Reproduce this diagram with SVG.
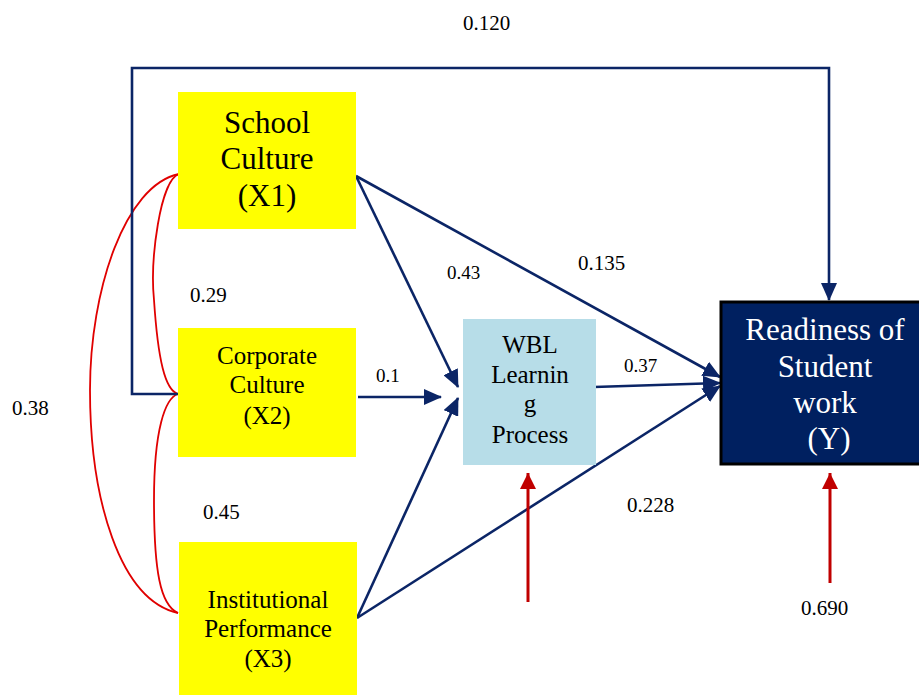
<svg xmlns="http://www.w3.org/2000/svg" width="919" height="695" viewBox="0 0 919 695">
<style>
text{font-family:"Liberation Serif","Times New Roman",serif;fill:#000}
.lbl{font-size:21px}
.sm{font-size:19px}
.nav{stroke:#0B2566;stroke-width:2.6;fill:none}
.red{stroke:#E00000;stroke-width:1.8;fill:none}
.ra{stroke:#C00000;stroke-width:3;fill:none}
</style>
<defs>
<marker id="ah" markerUnits="userSpaceOnUse" markerWidth="18" markerHeight="16" refX="17" refY="8" orient="auto">
<path d="M0,0 L18,8 L0,16 Z" fill="#0B2566"/>
</marker>
<marker id="rh" markerUnits="userSpaceOnUse" markerWidth="16" markerHeight="16" refX="16" refY="8" orient="auto">
<path d="M0,0 L16,8 L0,16 Z" fill="#C00000"/>
</marker>
</defs>
<rect width="919" height="695" fill="#fff"/>
<g id="connectors">
<path class="red" d="M179,174 C160,180 150,260 154,300 C158,360 165,390 178,394"/>
<path class="red" d="M178,394 C165,398 154,430 154,500 C154,570 160,605 178,613"/>
<path class="red" d="M179,174 C125,185 90,290 90,390 C90,500 120,600 178,613"/>
<polyline class="nav" points="178,394 132,394 132,68 829,68 829,300" marker-end="url(#ah)"/>
<line class="nav" x1="356" y1="176" x2="458" y2="387" marker-end="url(#ah)"/>
<line class="nav" x1="358" y1="397" x2="441" y2="397" marker-end="url(#ah)"/>
<line class="nav" x1="357" y1="618" x2="458" y2="398" marker-end="url(#ah)"/>
<line class="nav" x1="356" y1="176" x2="720" y2="377" marker-end="url(#ah)"/>
<line class="nav" x1="594" y1="387" x2="720" y2="383" marker-end="url(#ah)"/>
<line class="nav" x1="357" y1="618" x2="720" y2="386" marker-end="url(#ah)"/>
<line class="ra" x1="528" y1="602" x2="528" y2="473" marker-end="url(#rh)"/>
<line class="ra" x1="830" y1="583" x2="830" y2="473" marker-end="url(#rh)"/>
</g>
<g id="x1">
<rect x="178" y="92" width="178" height="137" fill="#FFFF00"/>
<text x="267" y="133" font-size="31" text-anchor="middle">School</text>
<text x="267" y="169" font-size="31" text-anchor="middle">Culture</text>
<text x="267" y="206" font-size="31" text-anchor="middle">(X1)</text>
</g>
<g id="x2">
<rect x="178" y="328" width="178" height="129" fill="#FFFF00"/>
<text x="267" y="364" font-size="25" text-anchor="middle">Corporate</text>
<text x="267" y="393" font-size="25" text-anchor="middle">Culture</text>
<text x="267" y="424" font-size="25" text-anchor="middle">(X2)</text>
</g>
<g id="x3">
<rect x="179" y="542" width="178" height="153" fill="#FFFF00"/>
<text x="268" y="608" font-size="25" text-anchor="middle">Institutional</text>
<text x="268" y="637" font-size="25" text-anchor="middle">Performance</text>
<text x="268" y="667" font-size="25" text-anchor="middle">(X3)</text>
</g>
<g id="wbl">
<rect x="463" y="319" width="133" height="146" fill="#B7DDE8"/>
<text x="530" y="353" font-size="25" text-anchor="middle">WBL</text>
<text x="530" y="383" font-size="25" text-anchor="middle">Learnin</text>
<text x="530" y="412" font-size="25" text-anchor="middle">g</text>
<text x="530" y="443" font-size="25" text-anchor="middle">Process</text>
</g>
<g id="y">
<rect x="721" y="302" width="200" height="162" fill="#002060" stroke="#000" stroke-width="3"/>
<text x="825" y="340" font-size="31" text-anchor="middle" style="fill:#fff">Readiness of</text>
<text x="825" y="377" font-size="31" text-anchor="middle" style="fill:#fff">Student</text>
<text x="825" y="413" font-size="31" text-anchor="middle" style="fill:#fff">work</text>
<text x="829" y="449" font-size="31" text-anchor="middle" style="fill:#fff">(Y)</text>
</g>
<g id="labels">
<text class="lbl" x="463" y="30">0.120</text>
<text class="lbl" x="578" y="270">0.135</text>
<text class="sm" x="447" y="279">0.43</text>
<text class="lbl" x="190" y="302">0.29</text>
<text class="sm" x="376" y="382">0.1</text>
<text class="sm" x="624" y="372">0.37</text>
<text class="lbl" x="12" y="415">0.38</text>
<text class="lbl" x="203" y="519">0.45</text>
<text class="lbl" x="627" y="512">0.228</text>
<text class="lbl" x="801" y="615">0.690</text>
</g>
</svg>
